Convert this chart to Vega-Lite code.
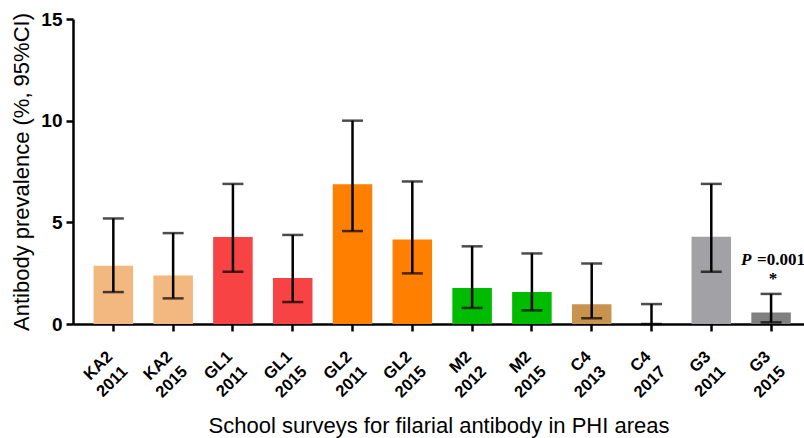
{
  "$schema": "https://vega.github.io/schema/vega-lite/v6.json",
  "width": 731,
  "height": 305,
  "autosize": "none",
  "padding": {"left": 73, "top": 19, "right": 0, "bottom": 114},
  "config": {
    "view": {"stroke": null},
    "font": "Liberation Sans",
    "axis": {
      "domainColor": "black",
      "domainWidth": 2.5,
      "tickColor": "black",
      "tickWidth": 2.5,
      "tickSize": 7,
      "grid": false,
      "labelColor": "black",
      "titleColor": "black",
      "labelFont": "Liberation Sans",
      "titleFont": "Liberation Sans"
    }
  },
  "data": {
    "values": [
      {"survey": "KA2 2011", "value": 2.87, "lo": 1.57, "hi": 5.19},
      {"survey": "KA2 2015", "value": 2.38, "lo": 1.26, "hi": 4.47},
      {"survey": "GL1 2011", "value": 4.28, "lo": 2.57, "hi": 6.89},
      {"survey": "GL1 2015", "value": 2.26, "lo": 1.08, "hi": 4.38},
      {"survey": "GL2 2011", "value": 6.87, "lo": 4.57, "hi": 10.0},
      {"survey": "GL2 2015", "value": 4.16, "lo": 2.49, "hi": 7.01},
      {"survey": "M2 2012", "value": 1.77, "lo": 0.79, "hi": 3.82},
      {"survey": "M2 2015", "value": 1.57, "lo": 0.67, "hi": 3.47},
      {"survey": "C4 2013", "value": 0.97, "lo": 0.28, "hi": 2.98},
      {"survey": "C4 2017", "value": 0.0, "lo": 0.0, "hi": 0.98},
      {"survey": "G3 2011", "value": 4.29, "lo": 2.57, "hi": 6.89},
      {"survey": "G3 2015", "value": 0.57, "lo": 0.08, "hi": 1.48}
    ]
  },
  "encoding": {
    "x": {
      "field": "survey",
      "type": "nominal",
      "sort": null,
      "scale": {"paddingInner": 0.339, "paddingOuter": 0.282, "align": 0.61},
      "axis": {
        "title": "School surveys for filarial antibody in PHI areas",
        "titleFontSize": 22,
        "titleFontWeight": "normal",
        "titlePadding": 15,
        "labelAngle": -45,
        "labelAlign": "right",
        "labelBaseline": "top",
        "labelFontSize": 16.5,
        "labelFontWeight": "bold",
        "labelPadding": 17,
        "labelOffset": -9,
        "labelLineHeight": 21,
        "labelExpr": "split(datum.value, ' ')"
      }
    }
  },
  "layer": [
    {
      "mark": {"type": "bar"},
      "encoding": {
        "y": {
          "field": "value",
          "type": "quantitative",
          "scale": {"domain": [0, 15], "nice": false},
          "axis": {
            "title": "Antibody prevalence (%, 95%CI)",
            "values": [0, 5, 10, 15],
            "titleFontSize": 22,
            "titleFontWeight": "normal",
            "titlePadding": 7,
            "labelFontSize": 19,
            "labelFontWeight": "bold",
            "labelPadding": 4
          }
        },
        "color": {
          "field": "survey",
          "type": "nominal",
          "sort": null,
          "legend": null,
          "scale": {
            "domain": ["KA2 2011", "KA2 2015", "GL1 2011", "GL1 2015", "GL2 2011", "GL2 2015", "M2 2012", "M2 2015", "C4 2013", "C4 2017", "G3 2011", "G3 2015"],
            "range": ["#F2B880", "#F2B880", "#F74343", "#F74343", "#FF8000", "#FF8000", "#00BB00", "#00BB00", "#C8924F", "#C8924F", "#A2A1A6", "#808080"]
          }
        }
      }
    },
    {
      "mark": {"type": "rule", "color": "black", "strokeWidth": 2.5},
      "encoding": {
        "y": {"field": "lo", "type": "quantitative"},
        "y2": {"field": "hi"}
      }
    },
    {
      "mark": {"type": "tick", "color": "black", "thickness": 2.5, "size": 21},
      "encoding": {"y": {"field": "hi", "type": "quantitative"}}
    },
    {
      "mark": {"type": "tick", "color": "black", "thickness": 2.5, "size": 21},
      "encoding": {"y": {"field": "lo", "type": "quantitative"}}
    },
    {
      "data": {"values": [{"survey": "G3 2015", "pos": 3.15, "p": "P", "rest": "=0.001", "star": "*", "starpos": 2.2}]},
      "layer": [
        {
          "mark": {"type": "text", "font": "Liberation Serif", "fontSize": 17, "fontWeight": "bold", "fontStyle": "italic", "align": "left", "baseline": "middle", "color": "black", "dx": -30},
          "encoding": {"y": {"field": "pos", "type": "quantitative"}, "text": {"field": "p"}}
        },
        {
          "mark": {"type": "text", "font": "Liberation Serif", "fontSize": 17, "fontWeight": "bold", "align": "left", "baseline": "middle", "color": "black", "dx": -14},
          "encoding": {"y": {"field": "pos", "type": "quantitative"}, "text": {"field": "rest"}}
        },
        {
          "mark": {"type": "text", "font": "Liberation Serif", "fontSize": 17, "fontWeight": "bold", "align": "center", "baseline": "middle", "color": "black", "dx": 2},
          "encoding": {"y": {"field": "starpos", "type": "quantitative"}, "text": {"field": "star"}}
        }
      ]
    }
  ]
}
